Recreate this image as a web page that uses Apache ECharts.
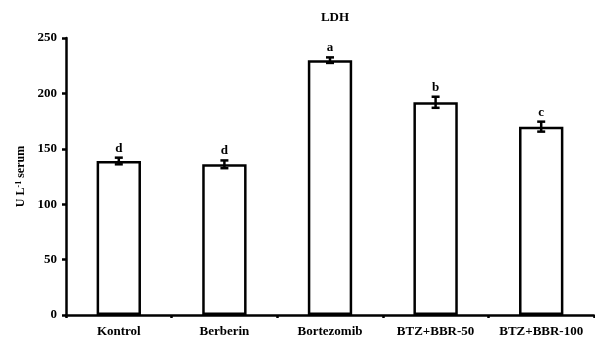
<!DOCTYPE html>
<html><head><meta charset="utf-8">
<script src="https://cdn.jsdelivr.net/npm/echarts@6/dist/echarts.min.js"></script>
<style>html,body{margin:0;padding:0;background:#fff}#c{width:595px;height:344px}</style>
</head><body><div id="c"></div>
<script>
var categories = ['Kontrol','Berberin','Bortezomib','BTZ+BBR-50','BTZ+BBR-100'];
var values = [139, 136, 230, 192, 170];
var errors = [3, 3.5, 2.5, 5, 4.5];
var letters = ['d','d','a','b','c'];
var yTicks = {min:0, max:250, interval:50};

var font = 'Liberation Serif';
var chart = echarts.init(document.getElementById('c'));
chart.setOption({
  animation:false,
  title:{text:'LDH', left:330, top:6, textAlign:'center',
    textStyle:{fontFamily:font, fontWeight:'bold', fontSize:13, color:'#000'}},
  grid:{left:66, right:1, top:38, bottom:29},
  xAxis:{type:'category', data:categories,
    axisLine:{lineStyle:{color:'#000', width:2.5}},
    axisTick:{show:true, length:3, interval:0, lineStyle:{color:'#000', width:2.5}},
    axisLabel:{fontFamily:font, fontWeight:'bold', fontSize:13, color:'#000', margin:10, interval:0, hideOverlap:false}},
  yAxis:{type:'value', min:yTicks.min, max:yTicks.max, interval:yTicks.interval,
    name:'{a|U L}{s|-1}{a| serum}', nameLocation:'middle', nameGap:39, nameRotate:90,
    nameTextStyle:{rich:{a:{fontFamily:font, fontWeight:'bold', fontSize:12, color:'#000'},
      s:{fontFamily:font, fontWeight:'bold', fontSize:8, color:'#000', verticalAlign:'top', lineHeight:10}}},
    splitLine:{show:false},
    axisLine:{show:true, lineStyle:{color:'#000', width:2.5}},
    axisTick:{show:true, length:4, lineStyle:{color:'#000', width:2.5}},
    axisLabel:{fontFamily:font, fontWeight:'bold', fontSize:13, color:'#000', margin:9}},
  series:[
    {type:'bar', data:values, barWidth:'42%', z:2,
      itemStyle:{color:'#fff', borderColor:'#000', borderWidth:2.5}},
    {type:'custom', z:5, data:values.map(function(v,i){return [i, v, errors[i], letters[i]];}),
      renderItem:function(params, api){
        var x = api.value(0), v = api.value(1), e = api.value(2);
        var top = api.coord([x, v+e]), bot = api.coord([x, v-e]);
        var hw = 4;
        var st = {stroke:'#000', lineWidth:2.5};
        return {type:'group', children:[
          {type:'line', shape:{x1:top[0], y1:top[1], x2:bot[0], y2:bot[1]}, style:st},
          {type:'line', shape:{x1:top[0]-hw, y1:top[1], x2:top[0]+hw, y2:top[1]}, style:st},
          {type:'line', shape:{x1:bot[0]-hw, y1:bot[1], x2:bot[0]+hw, y2:bot[1]}, style:st},
          {type:'text', style:{text:letters[params.dataIndex], x:top[0], y:top[1]-3, align:'center', verticalAlign:'bottom',
            font:'bold 13px "Liberation Serif"', fill:'#000'}}
        ]};
      }}
  ]
});
</script></body></html>
